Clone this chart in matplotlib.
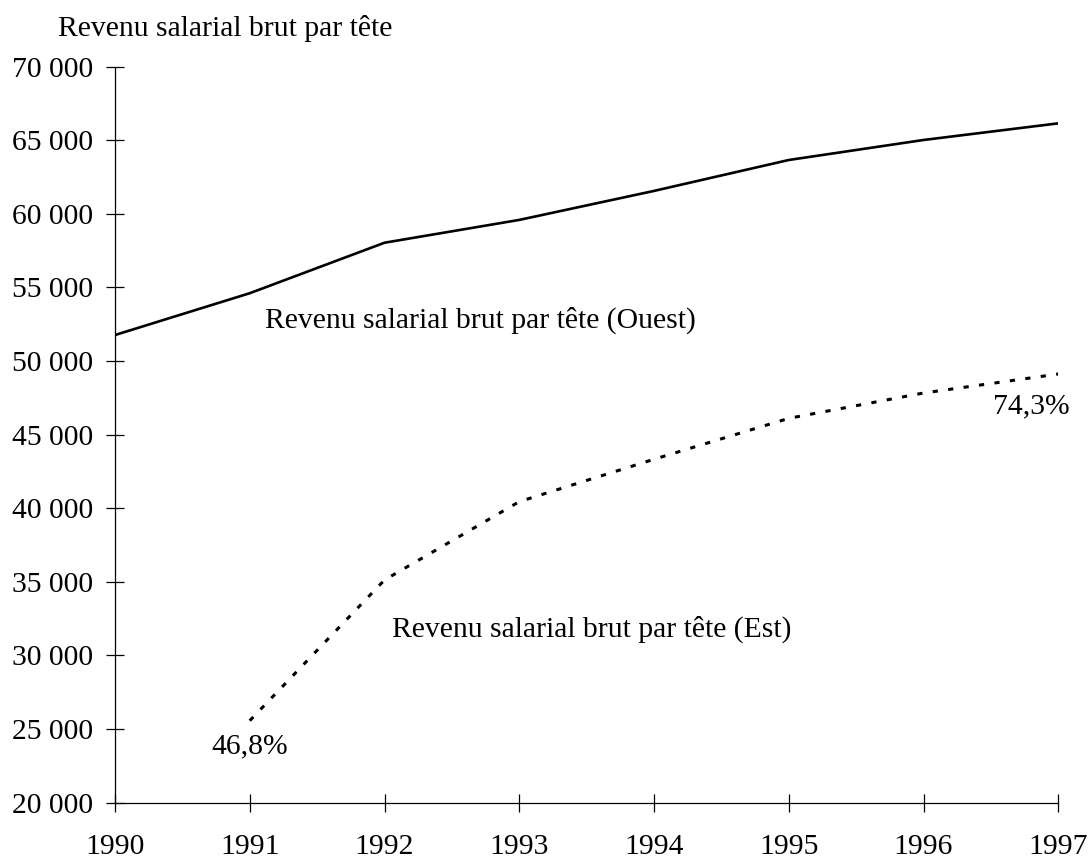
import matplotlib.pyplot as plt

plt.rcParams['font.family'] = 'Liberation Serif'

years = [1990, 1991, 1992, 1993, 1994, 1995, 1996, 1997]
ouest = [51770, 54610, 58040, 59590, 61560, 63660, 65020, 66150]
est_years = [1991, 1992, 1993, 1994, 1995, 1996, 1997]
est = [25570, 35130, 40450, 43330, 46110, 47830, 49120]
yticks = [20000, 25000, 30000, 35000, 40000, 45000, 50000, 55000, 60000, 65000, 70000]
ytick_labels = ['20 000', '25 000', '30 000', '35 000', '40 000', '45 000',
                '50 000', '55 000', '60 000', '65 000', '70 000']

fig = plt.figure(figsize=(10.88, 8.57), dpi=100)
ax = fig.add_axes([0.1057, 0.0634, 0.867, 0.8588])

ax.plot(years, ouest, color='black', lw=1.9, solid_joinstyle='round')
ax.plot(est_years, est, color='black', lw=2.2, linestyle=(0, (1.7, 3.4)))

ax.set_xlim(1990, 1997)
ax.set_ylim(20000, 70000)
ax.set_xticks(years)
ax.set_xticklabels([str(y) for y in years])
ax.set_yticks(yticks)
ax.set_yticklabels(ytick_labels)

for s in ['top', 'right']:
    ax.spines[s].set_visible(False)
for s in ['left', 'bottom']:
    ax.spines[s].set_linewidth(0.9)
ax.tick_params(axis='both', direction='inout', length=13, width=0.9, labelsize=21.3)
ax.tick_params(axis='y', pad=9)
ax.tick_params(axis='x', pad=16)

fs = 21.3
fig.text(0.0533, 0.958, 'Revenu salarial brut par tête', fontsize=fs, va='baseline')

ax.text(1991.113, 52250, 'Revenu salarial brut par tête (Ouest)', fontsize=fs, va='baseline')
ax.text(1992.053, 31260, 'Revenu salarial brut par tête (Est)', fontsize=fs, va='baseline')
ax.text(1990.712, 23380, '46,8%', fontsize=fs, va='baseline')
ax.text(1997.087, 46470, '74,3%', fontsize=fs, va='baseline', ha='right')

fig.savefig('out.png', dpi=100)
